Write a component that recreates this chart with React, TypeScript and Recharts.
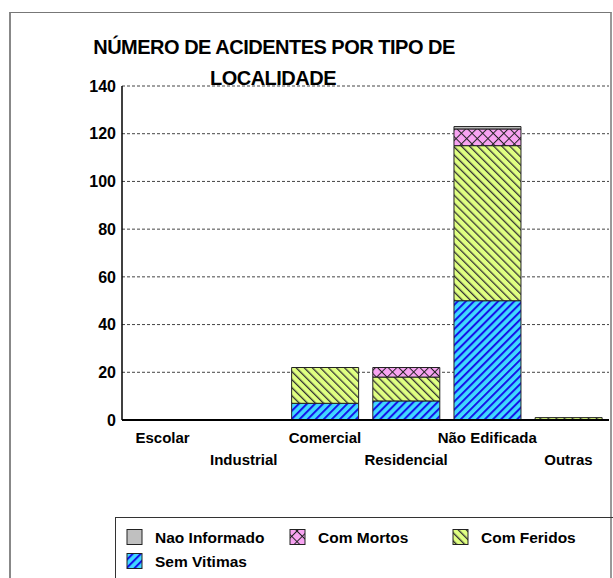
import React from 'react';
import { BarChart, Bar, XAxis, YAxis, CartesianGrid } from 'recharts';

const categories = ['Escolar', 'Industrial', 'Comercial', 'Residencial', 'Não Edificada', 'Outras'];
const semVitimas = [0, 0, 7, 8, 50, 0];
const comFeridos = [0, 0, 15, 10, 65, 1];
const comMortos = [0, 0, 0, 4, 7, 0];
const naoInformado = [0, 0, 0, 0, 1, 0];
const yTicks = [0, 20, 40, 60, 80, 100, 120, 140];

const data = categories.map((name, i) => ({
  name,
  sem: semVitimas[i],
  feridos: comFeridos[i],
  mortos: comMortos[i],
  nao: naoInformado[i],
}));

const FONT = '"Liberation Sans", Arial, sans-serif';

// hatch fills, prefix keeps ids unique between chart and legend svgs
function Patterns({ p }: { p: string }) {
  return (
    <defs>
      <pattern id={p + 'sem'} patternUnits="userSpaceOnUse" width="5.7" height="5.7" patternTransform="rotate(45)">
        <rect width="5.7" height="5.7" fill="#40d8ff" />
        <rect width="2" height="5.7" fill="#1414e8" />
      </pattern>
      <pattern id={p + 'fer'} patternUnits="userSpaceOnUse" width="5.7" height="5.7" patternTransform="rotate(-45)">
        <rect width="5.7" height="5.7" fill="#e0ff82" />
        <rect width="1.3" height="5.7" fill="#333" />
      </pattern>
      <pattern id={p + 'mor'} patternUnits="userSpaceOnUse" width="7.5" height="7.5" patternTransform="rotate(45)">
        <rect width="7.5" height="7.5" fill="#f8a4f2" />
        <rect width="1" height="7.5" fill="#222" />
        <rect width="7.5" height="1" fill="#222" />
      </pattern>
    </defs>
  );
}

const XTick = (props: any) => {
  const { x, y, payload, index } = props;
  return (
    <text x={x} y={y + (index % 2 ? 45 : 23)} textAnchor="middle" fontFamily={FONT} fontSize={15} fontWeight="bold" fill="#000">
      {payload.value}
    </text>
  );
};

const legendItems = [
  { label: 'Nao Informado', fill: '#c0c0c0', x: 127, row: 0 },
  { label: 'Com Mortos', fill: 'url(#lgmor)', x: 290, row: 0 },
  { label: 'Com Feridos', fill: 'url(#lgfer)', x: 453, row: 0 },
  { label: 'Sem Vitimas', fill: 'url(#lgsem)', x: 127, row: 1 },
];

export default function App() {
  return (
    <div style={{ position: 'absolute', left: 0, top: 0, width: 613, height: 578, background: '#fff', overflow: 'hidden' }}>
      {/* outer frame */}
      <div style={{ position: 'absolute', left: 9, top: 12, width: 599, height: 620, borderLeft: '2px solid #888', borderTop: '1px solid #777', borderRight: '2px solid #999' }} />

      <div style={{ position: 'absolute', left: 0, top: 0 }}>
        <BarChart width={613} height={578} data={data} margin={{ top: 86, right: 4, bottom: 108, left: 0 }} barCategoryGap="9%">
          <Patterns p="ch" />
          <CartesianGrid vertical={false} stroke="#444" strokeDasharray="3 2" />
          <XAxis dataKey="name" interval={0} height={50} tickLine={false} tickSize={0} tickMargin={0} axisLine={{ stroke: '#000', strokeWidth: 2 }} tick={<XTick />} />
          <YAxis
            width={122}
            domain={[0, 140]}
            ticks={yTicks}
            tickLine={false}
            tickSize={4}
            tickMargin={2}
            axisLine={{ stroke: '#000', strokeWidth: 1.5 }}
            tick={{ fontFamily: FONT, fontSize: 16, fontWeight: 'bold', fill: '#000' }}
          />
          <Bar dataKey="sem" stackId="a" fill="url(#chsem)" stroke="#222" strokeWidth={1} isAnimationActive={false} />
          <Bar dataKey="feridos" stackId="a" fill="url(#chfer)" stroke="#222" strokeWidth={1} isAnimationActive={false} />
          <Bar dataKey="mortos" stackId="a" fill="url(#chmor)" stroke="#222" strokeWidth={1} isAnimationActive={false} />
          <Bar dataKey="nao" stackId="a" fill="#c0c0c0" stroke="#222" strokeWidth={1} isAnimationActive={false} />
        </BarChart>
      </div>

      {/* title drawn over the plot's top line */}
      <svg width={613} height={100} style={{ position: 'absolute', left: 0, top: 0, pointerEvents: 'none' }}>
        <text x={274} y={54} textAnchor="middle" fontFamily={FONT} fontSize={20} fontWeight="bold" letterSpacing={-0.5} fill="#000">
          NÚMERO DE ACIDENTES POR TIPO DE
        </text>
        <text x={273} y={85} textAnchor="middle" fontFamily={FONT} fontSize={20} fontWeight="bold" letterSpacing={-0.5} fill="#000">
          LOCALIDADE
        </text>
      </svg>

      {/* legend */}
      <div style={{ position: 'absolute', left: 115, top: 517, width: 520, height: 100, border: '1px solid #333' }} />
      <svg width={613} height={578} style={{ position: 'absolute', left: 0, top: 0, pointerEvents: 'none' }}>
        <Patterns p="lg" />
        {legendItems.map((it) => {
          const cy = 537 + it.row * 24;
          return (
            <g key={it.label}>
              <rect x={it.x} y={cy - 7.5} width={15} height={15} fill={it.fill} stroke="#222" strokeWidth={1} />
              <text x={it.x + 28} y={cy + 5.5} fontFamily={FONT} fontSize={15.5} fontWeight="bold" fill="#000">
                {it.label}
              </text>
            </g>
          );
        })}
      </svg>
    </div>
  );
}
